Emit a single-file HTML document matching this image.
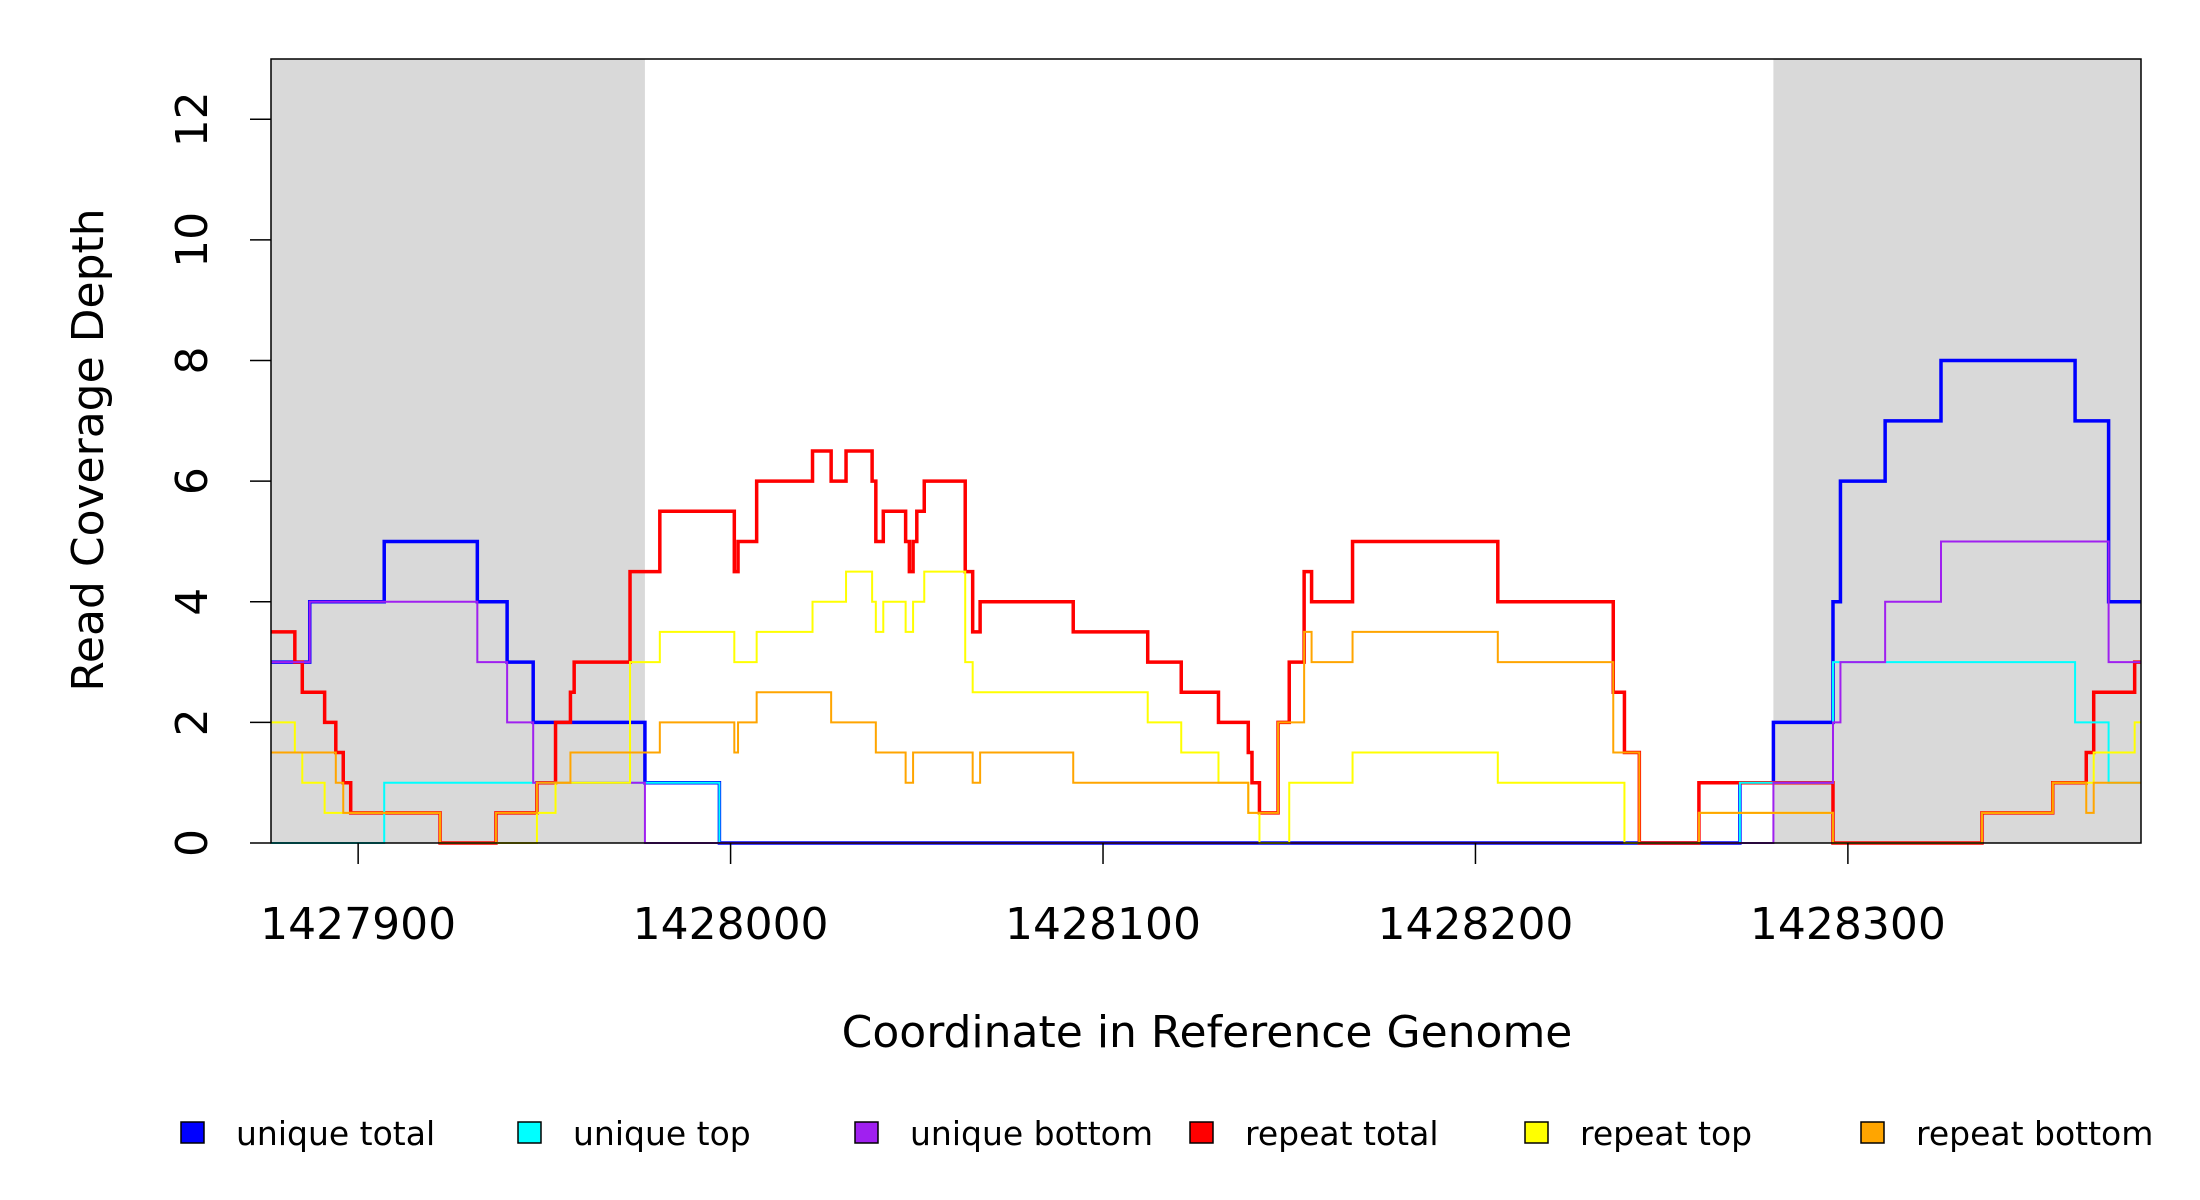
<!DOCTYPE html>
<html><head><meta charset="utf-8"><style>
html,body{margin:0;padding:0;background:#fff;}
svg{display:block;font-family:"DejaVu Sans","Liberation Sans",sans-serif;}
</style></head><body>
<svg id="chart" width="2200" height="1200" viewBox="0 0 2200 1200"></svg>
<script>
const xTicks = [1427900, 1428000, 1428100, 1428200, 1428300];
const yTicks = [0, 2, 4, 6, 8, 10, 12];
const shadeRegions = [[1427876.6, 1427977], [1428280, 1428378.7]];
// step series: breakpoints (x) and values (y)
const uniqueTotalX = [1427876.6,1427887,1427907,1427932,1427940,1427947,1427977,1427997,1428271,1428280,1428296,1428298,1428310,1428325,1428361,1428370];
const uniqueTotalY = [3,4,5,4,3,2,1,0,1,2,4,6,7,8,7,4];
const uniqueTopX = [1427876.6,1427907,1427997,1428271,1428296,1428361,1428370];
const uniqueTopY = [0,1,0,1,3,2,1];
const uniqueBottomX = [1427876.6,1427887,1427932,1427940,1427947,1427977,1428280,1428296,1428298,1428310,1428325,1428370];
const uniqueBottomY = [3,4,3,2,1,0,1,2,3,4,5,3];
const repeatTotalX = [1427876.6,1427883,1427885,1427891,1427894,1427896,1427898,1427922,1427937,1427948,1427953,1427957,1427958,1427973,1427981,1428001,1428002,1428007,1428022,1428027,1428031,1428038,1428039,1428041,1428047,1428048,1428049,1428050,1428052,1428063,1428065,1428067,1428092,1428112,1428121,1428131,1428139,1428140,1428142,1428147,1428150,1428154,1428156,1428167,1428206,1428237,1428240,1428244,1428260,1428296,1428336,1428355,1428364,1428366,1428377];
const repeatTotalY = [3.5,3,2.5,2,1.5,1,0.5,0,0.5,1,2,2.5,3,4.5,5.5,4.5,5,6,6.5,6,6.5,6,5,5.5,5,4.5,5,5.5,6,4.5,3.5,4,3.5,3,2.5,2,1.5,1,0.5,2,3,4.5,4,5,4,2.5,1.5,0,1,0,0.5,1,1.5,2.5,3];
const repeatTopX = [1427876.6,1427883,1427885,1427891,1427922,1427948,1427953,1427973,1427981,1428001,1428007,1428022,1428031,1428038,1428039,1428041,1428047,1428049,1428052,1428063,1428065,1428112,1428121,1428131,1428139,1428142,1428150,1428167,1428206,1428240,1428260,1428296,1428336,1428355,1428366,1428377];
const repeatTopY = [2,1.5,1,0.5,0,0.5,1,3,3.5,3,3.5,4,4.5,4,3.5,4,3.5,4,4.5,3,2.5,2,1.5,1,0.5,0,1,1.5,1,0,0.5,0,0.5,1,1.5,2];
const repeatBottomX = [1427876.6,1427894,1427896,1427922,1427937,1427948,1427957,1427981,1428001,1428002,1428007,1428027,1428039,1428047,1428049,1428065,1428067,1428092,1428139,1428147,1428154,1428156,1428167,1428206,1428237,1428244,1428260,1428296,1428336,1428355,1428364,1428366];
const repeatBottomY = [1.5,1,0.5,0,0.5,1,1.5,2,1.5,2,2.5,2,1.5,1,1.5,1,1.5,1,0.5,2,3.5,3,3.5,3,1.5,0,0.5,0,0.5,1,0.5,1];
const seriesNames = ["unique total","unique top","unique bottom","repeat total","repeat top","repeat bottom"];
const seriesColors = ["#0000ff","#00ffff","#a020f0","#ff0000","#ffff00","#ffa500"];

const X0 = 1427876.6, X1 = 1428378.7, PL = 271, PR = 2141, PT = 59, PB = 843, YMAX = 13;
const sx = v => PL + (v - X0) / (X1 - X0) * (PR - PL);
const sy = v => PB - v / YMAX * (PB - PT);
const svg = document.getElementById('chart');
const NS = 'http://www.w3.org/2000/svg';
function mk(tag, attrs, parent) {
  const e = document.createElementNS(NS, tag);
  for (const k in attrs) e.setAttribute(k, attrs[k]);
  (parent || svg).appendChild(e);
  return e;
}
shadeRegions.forEach(r => {
  const e = mk('rect', {x: sx(r[0]), y: PT, width: sx(r[1]) - sx(r[0]), height: PB - PT, fill: '#d9d9d9'});
  
  
});
const xs = [uniqueTotalX, uniqueTopX, uniqueBottomX, repeatTotalX, repeatTopX, repeatBottomX];
const ys = [uniqueTotalY, uniqueTopY, uniqueBottomY, repeatTotalY, repeatTopY, repeatBottomY];
const widths = [3.5, 2, 2, 3.5, 2, 2];
[0,3,1,2,4,5].forEach(i => {
  const X = xs[i], Y = ys[i];
  let d = '';
  for (let j = 0; j < X.length; j++) {
    const x0 = sx(X[j]), x1 = sx(j + 1 < X.length ? X[j + 1] : X1), y = sy(Y[j]);
    d += (j === 0 ? 'M' + x0 + ',' + y : 'L' + x0 + ',' + y) + 'L' + x1 + ',' + y;
  }
  const p = mk('path', {d: d, fill: 'none', stroke: seriesColors[i], 'stroke-width': widths[i], 'stroke-linejoin': 'miter'});
  
  
});
const frame = mk('rect', {x: PL, y: PT, width: PR - PL, height: PB - PT, fill: 'none', stroke: '#000', 'stroke-width': 1.5});


xTicks.forEach(t => {
  mk('line', {x1: sx(t), x2: sx(t), y1: PB, y2: PB + 21, stroke: '#000', 'stroke-width': 1.5});
  const tx = mk('text', {x: sx(t), y: 939, 'font-size': 44, 'text-anchor': 'middle'});
  tx.textContent = t;
  
  
});
yTicks.forEach(t => {
  mk('line', {x1: PL - 21, x2: PL, y1: sy(t), y2: sy(t), stroke: '#000', 'stroke-width': 1.5});
  const tx = mk('text', {x: 0, y: 0, 'font-size': 44, 'text-anchor': 'middle', transform: 'translate(207,' + sy(t) + ') rotate(-90)'});
  tx.textContent = t;
  
  
});
const xt = mk('text', {x: 1207, y: 1047, 'font-size': 44, 'text-anchor': 'middle'});
xt.textContent = 'Coordinate in Reference Genome';


const yt = mk('text', {x: 0, y: 0, 'font-size': 44, 'text-anchor': 'middle', transform: 'translate(103,450) rotate(-90)'});
yt.textContent = 'Read Coverage Depth';


const legX = [181, 518, 855, 1190, 1525, 1861];
seriesNames.forEach((n, i) => {
  const g = mk('g', {});
  
  
  mk('rect', {x: legX[i], y: 1122, width: 23, height: 21, fill: seriesColors[i], stroke: '#000', 'stroke-width': 1.5}, g);
  const t = mk('text', {x: legX[i] + 55, y: 1145, 'font-size': 33}, g);
  t.textContent = n;
});
</script>
</body></html>
